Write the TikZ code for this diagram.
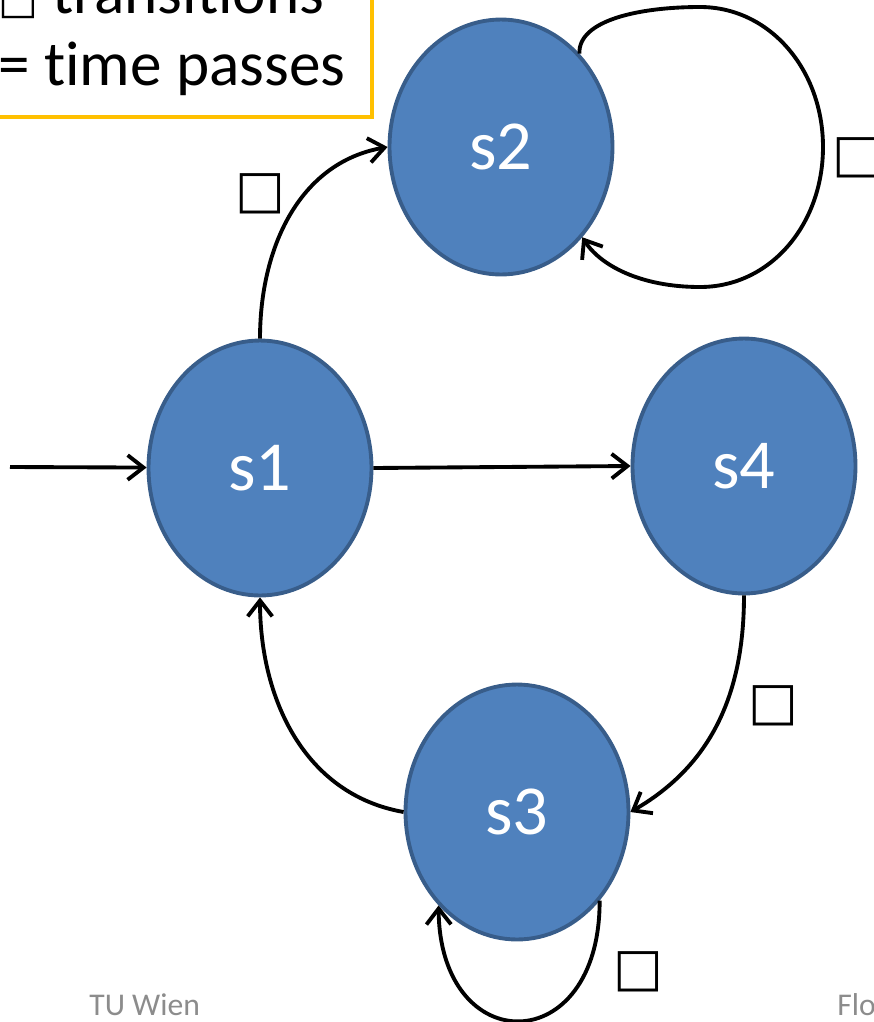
\documentclass[tikz,border=0pt]{standalone}
\usepackage{fontspec}
\setmainfont{Carlito}[Ligatures=NoCommon]
\newfontfamily\symfont{DejaVu Sans}
\usetikzlibrary{arrows.meta}
\usetikzlibrary{shapes.geometric}

\definecolor{stateblue}{HTML}{4F81BD}
\definecolor{stateedge}{HTML}{385D8A}
\definecolor{caporange}{HTML}{FFC000}
\definecolor{footgray}{HTML}{8C8C8C}

\tikzset{
  state/.style={ellipse, draw=stateedge, fill=stateblue, line width=2.2pt,
    minimum width=4.46cm, minimum height=5.1cm, inner sep=0pt,
    text=white, font=\fontsize{40}{48}\selectfont},
  trans/.style={->, >={Straight Barb[length=9pt,width=14pt]}, line width=2.2pt},
  lbl/.style={font=\symfont\fontsize{30}{30}\selectfont, inner sep=0pt},
  captext/.style={font=\fontsize{36}{43}\selectfont, anchor=base west, inner sep=0pt},
  foot/.style={font=\fontsize{18}{20}\selectfont, text=footgray, anchor=base west, inner sep=0pt}
}

\begin{document}
\begin{tikzpicture}[x=0.02cm, y=-0.02cm]
\useasboundingbox (0,0) rectangle (874,1022);
\clip (0,0) rectangle (874,1022);

% caption
\draw[caporange, line width=2.5pt] (-20,-20) rectangle (372,117);
\node[captext] (cap1) at (-2,13) {{\symfont\fontsize{24}{24}\selectfont □} transitions};
\node[captext] (cap2) at (-2,85) {= time passes};

% states
\node[state] (s1) at (260,468) {s1};
\node[state] (s2) at (501,147) {s2};
\node[state] (s3) at (517,812) {s3};
\node[state] (s4) at (744,466) {s4};

% transitions
\coordinate (init) at (10,467);
\draw[trans] (init) -- (s1);
\draw[trans] (s1.east) -- (s4.west);
\draw[trans] (s1.north) to[out=90,in=190] (s2.west);
\draw[trans] (s2.50) .. controls (578,20) and (640,7) .. (700,7)
  .. controls (770,7) and (823,70) .. (823,147)
  .. controls (823,225) and (770,287) .. (700,287)
  .. controls (640,287) and (600,265) .. (s2.-48);
\draw[trans] (s4.south) to[out=-90,in=30] (s3.east);
\draw[trans] (s3.west) to[out=170,in=-90] (s1.south);
\draw[trans] (s3.-47) .. controls (600,1060) and (440,1060) .. (s3.-130);

\node[lbl] (t12) at (260,194) {□};
\node[lbl] (t22) at (857,158) {□};
\node[lbl] (t43) at (773,706) {□};
\node[lbl] (t33) at (638,972) {□};

% footer
\node[foot] (tu) at (89,1015) {TU Wien};
\node[foot] (flo) at (837,1015) {Flo};
\end{tikzpicture}
\end{document}
